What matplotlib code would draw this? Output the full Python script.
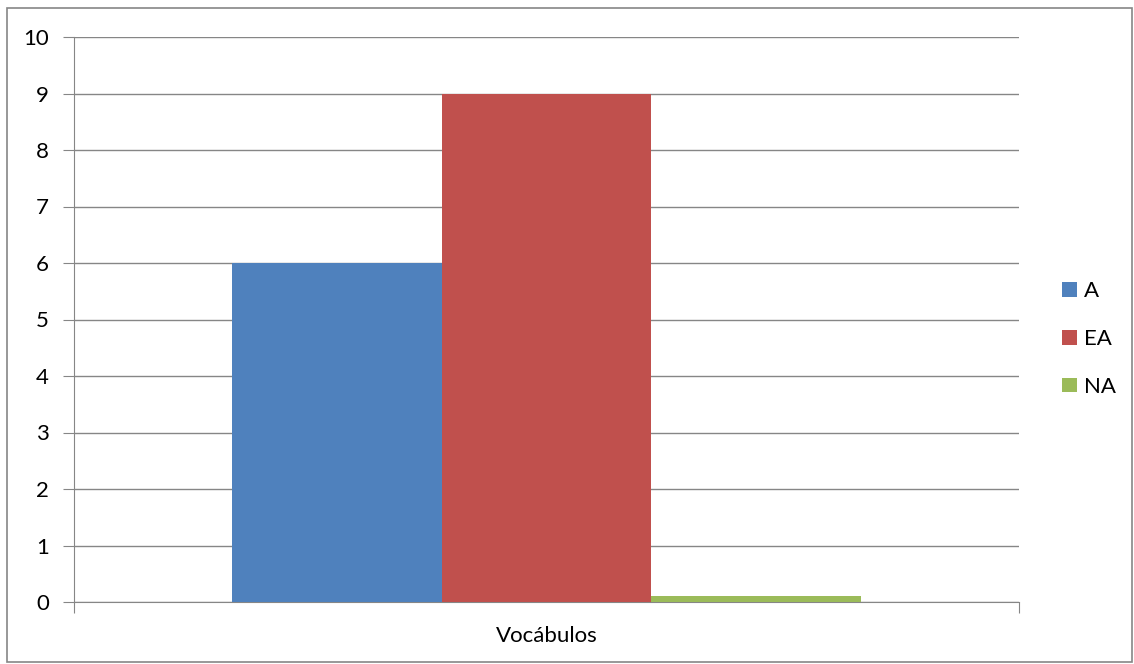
import matplotlib.pyplot as plt
from matplotlib.patches import Rectangle

plt.rcParams["font.family"] = ["Lato", "DejaVu Sans"]

category = "Vocábulos"
series = ["A", "EA", "NA"]
values = [6, 9, 0.1]
colors = ["#4F81BD", "#C0504D", "#9BBB59"]

fig = plt.figure(figsize=(11.34, 6.64), dpi=100)
ax = fig.add_axes([74 / 1134, 1 - 602 / 664, 945 / 1134, 565 / 664])

width = 0.222
for i, (s, v, c) in enumerate(zip(series, values, colors)):
    ax.bar(0.5 + (i - 1) * width, v, width=width, color=c, label=s, zorder=3)

ax.set_xlim(0, 1)
ax.set_ylim(0, 10)
ax.set_yticks(range(0, 11))
ax.yaxis.grid(True, color="#868686", linewidth=1.0, zorder=0)
for side in ("top", "right"):
    ax.spines[side].set_visible(False)
for side in ("left", "bottom"):
    ax.spines[side].set_color("#868686")
ax.tick_params(axis="y", length=8, color="#868686", labelsize=16, pad=10)
ax.set_xticks([0, 1])
ax.set_xticklabels(["", ""])
ax.tick_params(axis="x", length=8, color="#868686")
ax.text(0.5, -0.042, category, transform=ax.transAxes, ha="center", va="top", fontsize=16)

fig.legend(loc="center left", bbox_to_anchor=(1051 / 1134, 1 - 339 / 664), frameon=False,
           fontsize=16, handlelength=0.65, handleheight=0.65, handletextpad=0.35,
           labelspacing=1.25, borderpad=0)

fig.patches.append(Rectangle((7 / 1134, 1 - 662 / 664), 1125 / 1134, 654 / 664,
                             transform=fig.transFigure, fill=False, edgecolor="#868686",
                             linewidth=1.2))

fig.savefig("out.png", dpi=100)
